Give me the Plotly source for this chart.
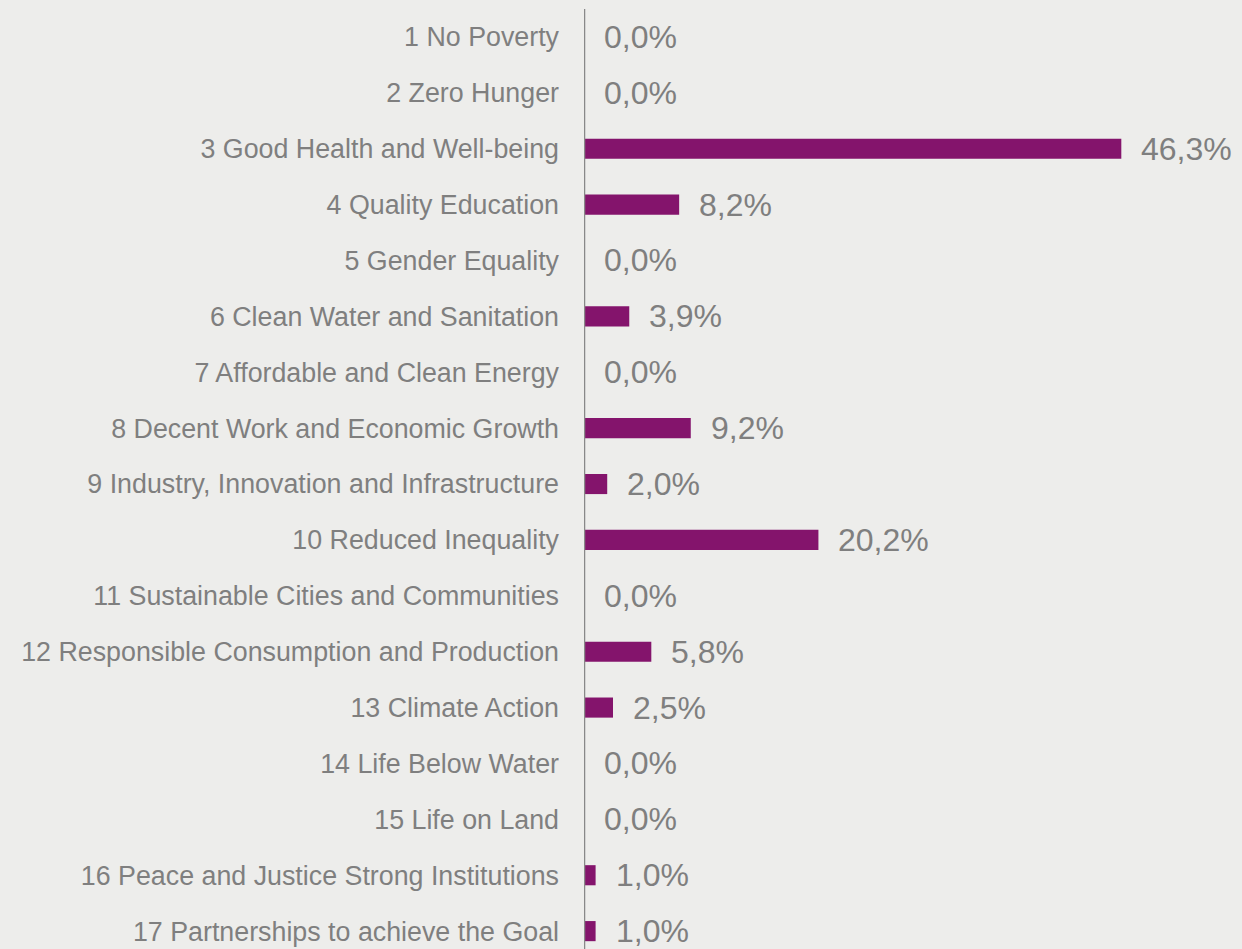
import plotly.graph_objects as go

categories = [
    "1 No Poverty", "2 Zero Hunger", "3 Good Health and Well-being",
    "4 Quality Education", "5 Gender Equality", "6 Clean Water and Sanitation",
    "7 Affordable and Clean Energy", "8 Decent Work and Economic Growth",
    "9 Industry, Innovation and Infrastructure", "10 Reduced Inequality",
    "11 Sustainable Cities and Communities",
    "12 Responsible Consumption and Production", "13 Climate Action",
    "14 Life Below Water", "15 Life on Land",
    "16 Peace and Justice Strong Institutions",
    "17 Partnerships to achieve the Goal",
]
values = [0.0, 0.0, 46.3, 8.2, 0.0, 3.9, 0.0, 9.2, 2.0, 20.2, 0.0, 5.8, 2.5, 0.0, 0.0, 1.0, 1.0]

BG = "#EDEDEB"
BAR = "#84146C"
TXT = "#7F7F7F"

ypos = list(range(len(categories)))
labels = [f"{v:.1f}%".replace(".", ",") for v in values]

fig = go.Figure()
fig.add_trace(go.Bar(
    x=values, y=ypos, orientation="h", width=0.36,
    marker=dict(color=BAR, line=dict(width=0)),
    hoverinfo="skip",
))
for v, y, t in zip(values, ypos, labels):
    fig.add_annotation(x=v, y=y, text=t, xanchor="left", yanchor="middle",
                       xshift=18, showarrow=False,
                       font=dict(family="Liberation Sans, Arial", size=32, color=TXT))

fig.update_layout(
    width=1242, height=949,
    margin=dict(l=584, r=0, t=9, b=0),
    paper_bgcolor=BG, plot_bgcolor=BG,
    showlegend=False,
    xaxis=dict(range=[0, 56.7], visible=False, fixedrange=True),
    yaxis=dict(
        range=[16.32, -0.5], tickmode="array", tickvals=ypos, ticktext=categories,
        showgrid=False, zeroline=False, showline=False,
        ticks="", ticklabelstandoff=24,
        tickfont=dict(family="Liberation Sans, Arial", size=26.8, color=TXT),
    ),
    shapes=[dict(type="line", xref="x", yref="paper", x0=0, x1=0, y0=0, y1=1,
                 line=dict(color="#888888", width=2.5))],
)
fig.write_html("out.html")
